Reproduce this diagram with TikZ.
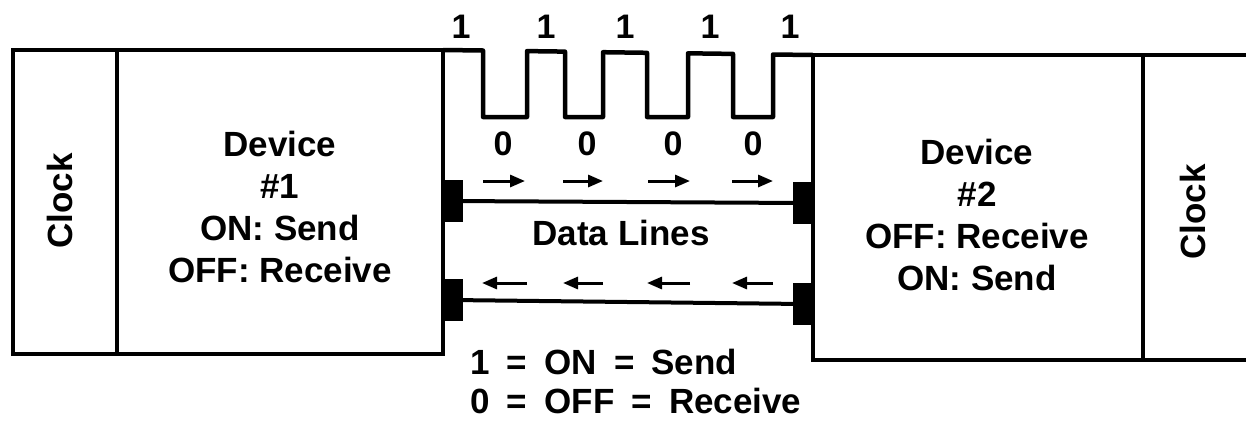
\documentclass[tikz,border=0pt]{standalone}
\usepackage{fontspec}
\setmainfont{Liberation Sans}
\usetikzlibrary{arrows.meta}
\tikzset{
  box/.style={draw, line width=4pt, inner sep=0pt, outer sep=0pt, anchor=north west},
  lbl/.style={font=\bfseries\fontsize{35}{42}\selectfont, align=center, inner sep=0pt},
  bit/.style={font=\bfseries\fontsize{34}{36}\selectfont, inner sep=0pt},
  conn/.style={fill=black, inner sep=0pt, outer sep=0pt, minimum width=22pt, minimum height=42pt},
  dline/.style={line width=4pt},
  wave/.style={line width=4.5pt, line join=round},
  flow/.style={line width=3pt, -{Triangle[length=15pt,width=12pt]}}
}
\newcommand{\legsp}{\hspace{0.49em}}
\begin{document}
\begin{tikzpicture}[x=1pt,y=-1pt]
\useasboundingbox (0,0) rectangle (1246,424);
% left unit
\node[box, minimum width=104pt, minimum height=304pt] (clock1) at (13,50) {};
\node[box, minimum width=326pt, minimum height=304pt] (dev1) at (117,50) {};
% right unit
\node[box, minimum width=330pt, minimum height=305pt] (dev2) at (813,55) {};
\node[box, minimum width=160pt, minimum height=305pt] (clock2) at (1143,55) {};
% labels
\node[lbl, rotate=90] (clock1label) at (60,201) {Clock};
\node[lbl, rotate=90] (clock2label) at (1193,212) {Clock};
\node[lbl] (dev1label) at (280,206.5) {Device\\\#1\\ON: Send\\OFF: Receive};
\node[lbl] (dev2label) at (977,215) {Device\\\#2\\OFF: Receive\\ON: Send};
% waveform
\draw[wave] (dev1.north east) -- (483,50.5) -- (483,117) -- (527,117) -- (527,51.1)
  -- (565,51.6) -- (565,117) -- (603,117) -- (603,52.2) -- (647,52.8) -- (647,117)
  -- (688,117) -- (688,53.3) -- (733,53.9) -- (733,117) -- (773,117) -- (773,54.5)
  -- (dev2.north west);
\foreach \x/\n in {461/a,546/b,625/c,710/d,790/e}
  \node[bit] (one\n) at (\x,27) {1};
\foreach \x/\n in {503/a,587/b,673/c,753/d}
  \node[bit] (zero\n) at (\x,144) {0};
% connectors and data lines
\node[conn] (conn1a) at (452,201) {};
\node[conn] (conn1b) at (452,300) {};
\node[conn] (conn2a) at (804,203) {};
\node[conn] (conn2b) at (804,304) {};
\draw[dline] (conn1a) -- (conn2a);
\draw[dline] (conn1b) -- (conn2b);
\node[lbl] (datalabel) at (621,233) {Data Lines};
% direction arrows
\foreach \a/\b in {483/525,563/603,648/690,732/773}
  \draw[flow] (\a,181) -- (\b,181);
\foreach \a/\b in {527/482,603/563,690/647,773/732}
  \draw[flow] (\a,283) -- (\b,283);
% legend
\node[lbl, anchor=west] (leg1) at (470,362) {1\legsp=\legsp ON\legsp=\legsp Send};
\node[lbl, anchor=west] (leg2) at (470,401) {0\legsp=\legsp OFF\legsp=\legsp Receive};
\end{tikzpicture}
\end{document}
